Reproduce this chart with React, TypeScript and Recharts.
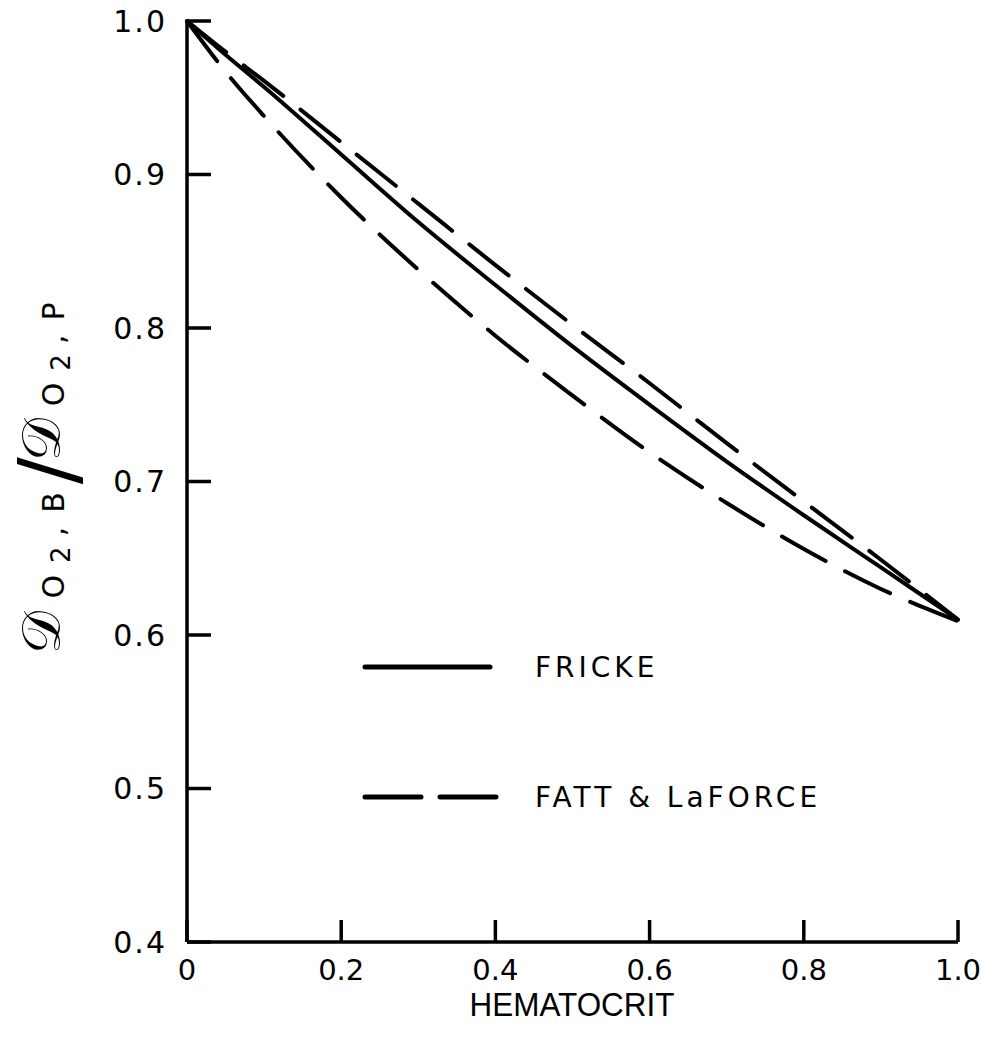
// Ratio of O2 diffusivity in blood to plasma vs. hematocrit.
// Fricke (solid) against the Fatt & LaForce band (two dashed bounds).
import { LineChart, Line, XAxis, YAxis, Legend } from 'recharts';

const INK = '#000';
const FONT = 'DejaVu Sans, sans-serif';

const HEMATOCRIT = [0, 0.05, 0.1, 0.2, 0.3, 0.4, 0.5, 0.6, 0.7, 0.8, 0.9, 1.0];
const FRICKE = [1.0, 0.978, 0.957, 0.913, 0.869, 0.828, 0.788, 0.75, 0.713, 0.678, 0.644, 0.61];
const FATT_UPPER = [1.0, 0.98, 0.961, 0.921, 0.881, 0.841, 0.802, 0.764, 0.725, 0.687, 0.649, 0.61];
const FATT_LOWER = [1.0, 0.967, 0.938, 0.885, 0.838, 0.795, 0.756, 0.719, 0.686, 0.656, 0.63, 0.609];

const X_TICKS = [0, 0.2, 0.4, 0.6, 0.8, 1.0];
const Y_TICKS = [0.4, 0.5, 0.6, 0.7, 0.8, 0.9, 1.0];

const LEGEND_ROWS = [
  { label: 'FRICKE', dash: undefined as string | undefined },
  { label: 'FATT & LaFORCE', dash: '56 19' },
];

const data = HEMATOCRIT.map((h, i) => ({
  h,
  fricke: FRICKE[i],
  fattHigh: FATT_UPPER[i],
  fattLow: FATT_LOWER[i],
}));

const xFmt = (v: number) => (v === 0 ? '0' : v.toFixed(1));
const yFmt = (v: number) => v.toFixed(1);

const yTickStyle = { fill: INK, fontFamily: FONT, fontSize: 30, letterSpacing: 2 };
const xTickStyle = { fill: INK, fontFamily: FONT, fontSize: 29 };

function renderLegend() {
  return (
    <div style={{ fontFamily: FONT, fontSize: 28, letterSpacing: 4, color: INK }}>
      {LEGEND_ROWS.map((r) => (
        <div key={r.label} style={{ display: 'flex', alignItems: 'center', height: 40, marginBottom: 90 }}>
          <svg width={140} height={10}>
            <line
              x1={3}
              x2={r.dash ? 134 : 128}
              y1={5}
              y2={5}
              stroke={INK}
              strokeWidth={5}
              strokeLinecap="round"
              strokeDasharray={r.dash}
            />
          </svg>
          <span style={{ marginLeft: 33 }}>{r.label}</span>
        </div>
      ))}
    </div>
  );
}

// script D sub "O2,B" / script D sub "O2,P", read bottom to top
function YTitle() {
  return (
    <text transform="translate(60 478) rotate(-90)" textAnchor="middle" fill={INK} fontFamily={FONT} fontSize={54}>
      <tspan>𝒟</tspan>
      <tspan fontSize={30} dy={4} dx={12}>O</tspan>
      <tspan fontSize={26} dy={6} dx={12}>2</tspan>
      <tspan fontSize={30} dy={-6} dx={10}>,</tspan>
      <tspan fontSize={30} dx={14}>B</tspan>
      <tspan fontSize={80} dy={12} dx={8}>/</tspan>
      <tspan fontSize={54} dy={-16} dx={-4}>𝒟</tspan>
      <tspan fontSize={30} dy={4} dx={12}>O</tspan>
      <tspan fontSize={26} dy={6} dx={12}>2</tspan>
      <tspan fontSize={30} dy={-6} dx={10}>,</tspan>
      <tspan fontSize={30} dx={14}>P</tspan>
    </text>
  );
}

function XTitle() {
  return (
    <text
      x={572}
      y={1016}
      textAnchor="middle"
      fill={INK}
      fontFamily="Liberation Sans, sans-serif"
      fontSize={34}
      textLength={205}
      lengthAdjust="spacingAndGlyphs"
    >
      HEMATOCRIT
    </text>
  );
}

export default function App() {
  return (
    <div style={{ position: 'absolute', left: 0, top: 0, background: '#fff' }}>
      <LineChart width={982} height={1043} data={data} margin={{ top: 21, right: 24, bottom: 0, left: 0 }}>
        <XAxis
          xAxisId="bottom"
          dataKey="h"
          type="number"
          domain={[0, 1]}
          ticks={X_TICKS}
          tickFormatter={xFmt}
          height={101}
          stroke={INK}
          strokeWidth={3.5}
          tickSize={-22}
          tickMargin={39}
          tick={xTickStyle}
          label={{ content: XTitle }}
        />
        <XAxis
          xAxisId="top"
          orientation="top"
          dataKey="h"
          type="number"
          domain={[0, 1]}
          ticks={X_TICKS}
          tickFormatter={() => ''}
          height={0}
          stroke={INK}
          strokeWidth={3.5}
          tickSize={-22}
        />
        <YAxis
          yAxisId="left"
          type="number"
          domain={[0.4, 1]}
          ticks={Y_TICKS}
          tickFormatter={yFmt}
          width={187}
          stroke={INK}
          strokeWidth={3.5}
          tickSize={-24}
          tickMargin={44}
          tick={yTickStyle}
          label={{ content: YTitle }}
        />
        <YAxis
          yAxisId="right"
          orientation="right"
          type="number"
          domain={[0.4, 1]}
          ticks={Y_TICKS}
          tickFormatter={() => ''}
          width={0}
          stroke={INK}
          strokeWidth={3.5}
          tickSize={-24}
        />
        <Legend
          content={renderLegend}
          layout="vertical"
          align="center"
          verticalAlign="middle"
          wrapperStyle={{ left: 362, top: 647, width: 520 }}
        />
        <Line
          xAxisId="bottom"
          yAxisId="left"
          type="monotone"
          dataKey="fricke"
          stroke={INK}
          strokeWidth={4}
          dot={false}
          isAnimationActive={false}
        />
        <Line
          xAxisId="bottom"
          yAxisId="left"
          type="monotone"
          dataKey="fattHigh"
          stroke={INK}
          strokeWidth={4}
          strokeDasharray="50 22"
          strokeLinecap="round"
          dot={false}
          isAnimationActive={false}
        />
        <Line
          xAxisId="bottom"
          yAxisId="left"
          type="monotone"
          dataKey="fattLow"
          stroke={INK}
          strokeWidth={4}
          strokeDasharray="50 22"
          strokeLinecap="round"
          dot={false}
          isAnimationActive={false}
        />
      </LineChart>
    </div>
  );
}
